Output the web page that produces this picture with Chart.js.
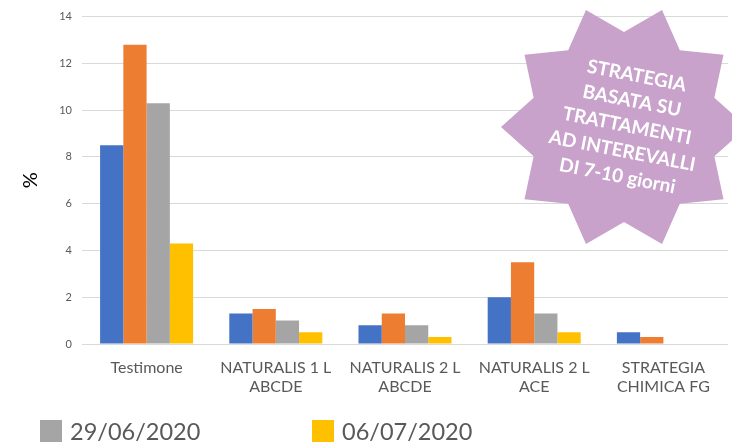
<!DOCTYPE html>
<html lang="it">
<head>
<meta charset="UTF-8">
<title>Strategia basata su trattamenti ad intervalli</title>
<script src="https://cdn.jsdelivr.net/npm/chart.js"></script>
<style>
  body { margin: 0; background: #fff; font-family: Lato, "Noto Sans", sans-serif; }
  .wrap { position: relative; width: 732px; height: 446px; overflow: hidden; }
  #myChart { position: absolute; left: 0; top: 0; }
  .legend-item { position: absolute; top: 417px; display: flex; align-items: center; color: #595959; font-size: 23.5px; }
  .legend-item span.box { display: inline-block; width: 22px; height: 22px; margin-right: 8px; }
</style>
</head>
<body>
<div class="wrap">
  <canvas id="myChart" width="732" height="446"></canvas>
  <div class="legend-item" style="left:40px"><span class="box" style="background:#A5A5A5"></span>29/06/2020</div>
  <div class="legend-item" style="left:312px"><span class="box" style="background:#FFC000"></span>06/07/2020</div>
</div>
<script>
// categories and series
const categories = [
  ['Testimone'],
  ['NATURALIS 1 L', 'ABCDE'],
  ['NATURALIS 2 L', 'ABCDE'],
  ['NATURALIS 2 L', 'ACE'],
  ['STRATEGIA', 'CHIMICA FG']
];
const seriesNames = ['15/06/2020', '22/06/2020', '29/06/2020', '06/07/2020'];
const serie1 = [8.5, 1.3, 0.8, 2.0, 0.5];
const serie2 = [12.8, 1.5, 1.3, 3.5, 0.3];
const serie3 = [10.3, 1.0, 0.8, 1.3, 0];
const serie4 = [4.3, 0.5, 0.3, 0.5, 0];
const colors = ['#4472C4', '#ED7D31', '#A5A5A5', '#FFC000'];
const yTicks = [0, 2, 4, 6, 8, 10, 12, 14];

const starLines = ['STRATEGIA', 'BASATA SU', 'TRATTAMENTI', 'AD INTEREVALLI', 'DI 7-10 giorni'];

// star badge drawn on top of the chart
const starPlugin = {
  id: 'star',
  afterDatasetsDraw(chart) {
    const ctx = chart.ctx;
    const cx = 624, cy = 127, outer = 123, inner = 95;
    ctx.save();
    ctx.beginPath();
    for (let k = 0; k < 20; k++) {
      const r = k % 2 === 0 ? inner : outer;
      const a = (k * 18) * Math.PI / 180;
      const x = cx + r * Math.sin(a);
      const y = cy - r * Math.cos(a);
      if (k === 0) ctx.moveTo(x, y); else ctx.lineTo(x, y);
    }
    ctx.closePath();
    ctx.fillStyle = '#C8A2CB';
    ctx.fill();

    ctx.translate(627, 126);
    ctx.rotate(11 * Math.PI / 180);
    ctx.fillStyle = '#ffffff';
    ctx.font = 'bold 19px Lato';
    ctx.textAlign = 'center';
    ctx.textBaseline = 'middle';
    starLines.forEach((t, i) => {
      ctx.fillText(t, 0, (i - 2) * 25.5);
    });
    ctx.restore();
  }
};

const ctx = document.getElementById('myChart').getContext('2d');
new Chart(ctx, {
  type: 'bar',
  data: {
    labels: categories,
    datasets: [serie1, serie2, serie3, serie4].map((d, i) => ({
      label: seriesNames[i],
      data: d,
      backgroundColor: colors[i],
      borderWidth: 0,
      categoryPercentage: 0.72,
      barPercentage: 1
    }))
  },
  options: {
    responsive: false,
    animation: false,
    layout: { padding: { left: 0, right: 4, top: 9, bottom: 40 } },
    plugins: {
      legend: { display: false },
      tooltip: { enabled: false }
    },
    scales: {
      x: {
        grid: { display: false },
        border: { display: false },
        ticks: {
          color: '#595959',
          font: { family: 'Lato', size: 16 },
          padding: 6,
          maxRotation: 0,
          autoSkip: false
        },
        afterFit(s) { s.height = 62; }
      },
      y: {
        min: 0,
        max: 14,
        afterBuildTicks(s) { s.ticks = yTicks.map(v => ({ value: v })); },
        grid: { color: '#D9D9D9', drawTicks: false },
        border: { display: false },
        ticks: {
          color: '#595959',
          font: { family: 'Lato', size: 11 },
          padding: 10
        },
        title: {
          display: true,
          text: '%',
          color: '#000',
          font: { family: 'Lato', size: 20 },
          padding: { top: 19, bottom: 0 }
        },
        afterFit(s) { s.width = 82; }
      }
    }
  },
  plugins: [starPlugin]
});
</script>
</body>
</html>
